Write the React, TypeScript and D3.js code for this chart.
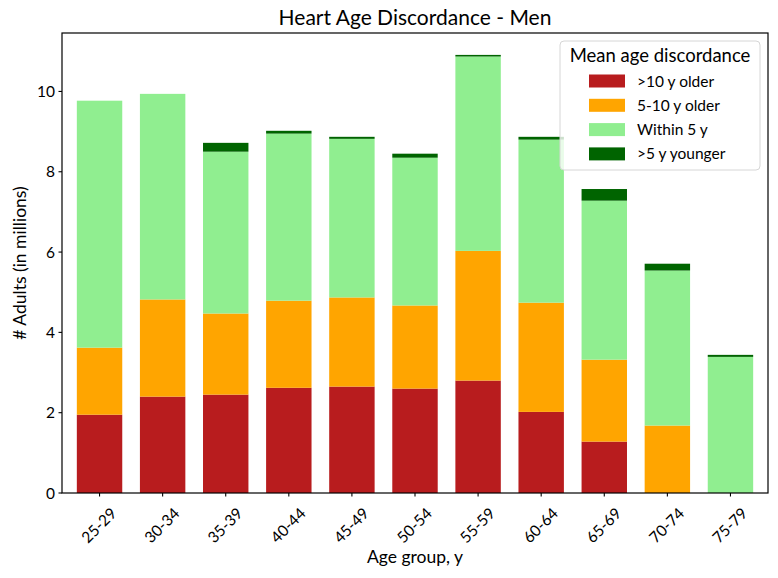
import { useMemo } from 'react';
import * as d3 from 'd3';

// Age groups on the x axis
const ageGroups = ['25-29', '30-34', '35-39', '40-44', '45-49', '50-54', '55-59', '60-64', '65-69', '70-74', '75-79'];

// Millions of adults in each discordance class (bottom to top of the stack)
const olderOver10 = [1.95, 2.40, 2.45, 2.62, 2.65, 2.60, 2.80, 2.02, 1.28, 0, 0];
const older5to10 = [1.67, 2.42, 2.02, 2.17, 2.22, 2.07, 3.23, 2.72, 2.04, 1.68, 0];
const within5 = [6.15, 5.12, 4.03, 4.16, 3.95, 3.68, 4.84, 4.06, 3.96, 3.86, 3.39];
const youngerOver5 = [0, 0, 0.22, 0.07, 0.05, 0.10, 0.04, 0.07, 0.29, 0.17, 0.05];

const seriesLabels = ['>10 y older', '5-10 y older', 'Within 5 y', '>5 y younger'];
const seriesColors = ['#b81c1e', '#ffa500', '#90ee90', '#006400'];
const yTicks = [0, 2, 4, 6, 8, 10];

const W = 778;
const H = 578;
const FONT = 'Lato, "Noto Sans", sans-serif';

export default function App() {
  const margin = { top: 33, right: 10, bottom: 85, left: 62 };
  const innerW = W - margin.left - margin.right;
  const innerH = H - margin.top - margin.bottom;

  const rows = useMemo(
    () =>
      ageGroups.map((g, i) => ({
        group: g,
        s0: olderOver10[i],
        s1: older5to10[i],
        s2: within5[i],
        s3: youngerOver5[i],
      })),
    []
  );

  const keys = ['s0', 's1', 's2', 's3'];
  const stacked = d3.stack<any>().keys(keys)(rows);
  const maxTotal = d3.max(rows, d => d.s0 + d.s1 + d.s2 + d.s3) || 0;

  const x = d3.scaleBand()
    .domain(ageGroups)
    .range([0, innerW])
    .paddingInner(0.28)
    .paddingOuter(0.235);

  const y = d3.scaleLinear()
    .domain([0, maxTotal * 1.05])
    .range([innerH, 0]);

  return (
    <svg
      width={W}
      height={H}
      style={{ position: 'absolute', left: 0, top: 0, background: '#fff' }}
      fontFamily={FONT}
    >
      <text x={margin.left + innerW / 2} y={25} textAnchor="middle" fontSize={21} fill="#000">
        Heart Age Discordance - Men
      </text>

      <g transform={`translate(${margin.left},${margin.top})`}>
        {/* stacked bars */}
        {stacked.map((layer, li) => (
          <g key={li} fill={seriesColors[li]}>
            {layer.map((d, i) => (
              <rect
                key={i}
                x={x(ageGroups[i])}
                y={y(d[1])}
                width={x.bandwidth()}
                height={Math.max(0, y(d[0]) - y(d[1]))}
              />
            ))}
          </g>
        ))}

        {/* y axis ticks */}
        {yTicks.map(t => (
          <g key={t} transform={`translate(0,${y(t)})`}>
            <line x1={-3.5} x2={0} stroke="#000" strokeWidth={1.1} />
            <text x={-7} dy="0.36em" textAnchor="end" fontSize={15.5} fill="#000">
              {t}
            </text>
          </g>
        ))}

        {/* x axis ticks */}
        {ageGroups.map(g => {
          const cx = (x(g) || 0) + x.bandwidth() / 2;
          return (
            <g key={g}>
              <line x1={cx} x2={cx} y1={innerH} y2={innerH + 3.5} stroke="#000" strokeWidth={1.1} />
              <text
                transform={`translate(${cx - 1},${innerH + 32}) rotate(-45)`}
                textAnchor="middle"
                dominantBaseline="central"
                fontSize={15.5}
                fill="#000"
              >
                {g}
              </text>
            </g>
          );
        })}

        {/* frame */}
        <rect x={0} y={0} width={innerW} height={innerH} fill="none" stroke="#000" strokeWidth={1.2} />

        {/* legend */}
        <g transform={`translate(${innerW - 208},8)`}>
          <rect x={0} y={0} width={200} height={129} rx={4} fill="#fff" fillOpacity={0.8} stroke="#d6d6d6" />
          <text x={100} y={21} textAnchor="middle" fontSize={18.5} fill="#000">
            Mean age discordance
          </text>
          {seriesLabels.map((lab, i) => (
            <g key={lab} transform={`translate(0,${40 + i * 24.3})`}>
              <rect x={29} y={-6.5} width={36} height={13} fill={seriesColors[i]} />
              <text x={77} dy="0.36em" fontSize={15.5} fill="#000">
                {lab}
              </text>
            </g>
          ))}
        </g>
      </g>

      <text x={margin.left + innerW / 2} y={563} textAnchor="middle" fontSize={17.5} fill="#000">
        Age group, y
      </text>
      <text
        transform={`translate(26,${margin.top + innerH / 2}) rotate(-90)`}
        textAnchor="middle"
        fontSize={17.5}
        fill="#000"
      >
        # Adults (in millions)
      </text>
    </svg>
  );
}
